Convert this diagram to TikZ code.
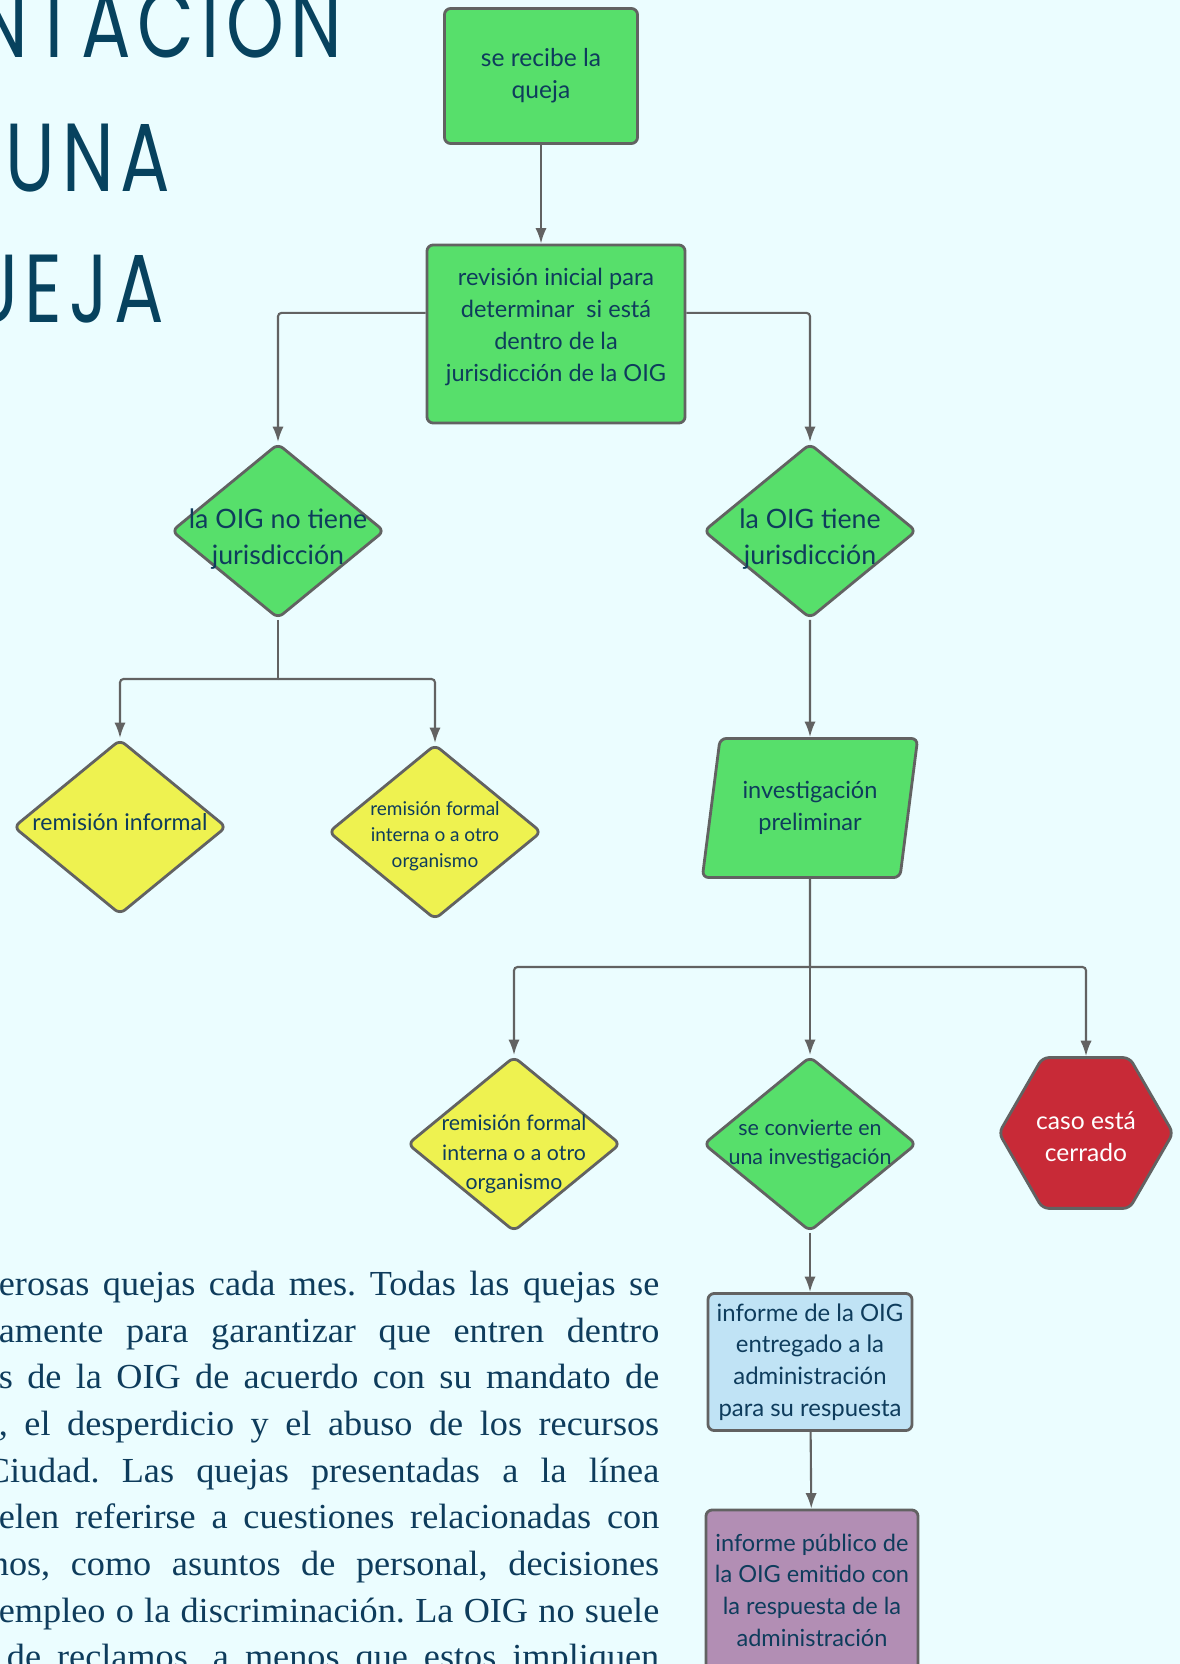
\documentclass[tikz,border=0pt]{standalone}
\usepackage{fontspec}
\setmainfont{Lato}
\newfontfamily\titlefont[FakeStretch=0.76,LetterSpace=7]{Poppins}
\newfontfamily\bodyfont[FakeStretch=1.03]{Liberation Serif}
\usetikzlibrary{shapes.geometric,arrows.meta}

\definecolor{bgcol}{HTML}{EBFDFF}
\definecolor{edge}{HTML}{626262}
\definecolor{ink}{HTML}{0E3C5C}
\definecolor{titleink}{HTML}{07425E}
\definecolor{okgreen}{HTML}{57DF6B}
\definecolor{referyellow}{HTML}{EEF250}
\definecolor{closedred}{HTML}{C82A37}
\definecolor{reportblue}{HTML}{C0E3F5}
\definecolor{publicpurple}{HTML}{B28EB4}

\begin{document}
\frenchspacing
\begin{tikzpicture}[x=0.01cm,y=-0.01cm]
  \tikzstyle{box}=[draw=edge,line width=0.8pt,rounded corners=1.8pt,fill=okgreen,text=ink,align=center,inner sep=0pt,font=\fontsize{7}{9.1}\selectfont]
  \tikzstyle{dia}=[diamond,draw=edge,line width=0.8pt,rounded corners=1.8pt,fill=okgreen,minimum width=2.13cm,minimum height=1.75cm,inner sep=0pt]
  \tikzstyle{lbl}=[text=ink,align=center,inner sep=0pt]
  \tikzstyle{line}=[draw=edge,line width=0.6pt,rounded corners=1pt]
  \tikzstyle{conn}=[line,-{Latex[length=4.4pt,width=3.2pt]}]
  \tikzstyle{body}=[anchor=base east,inner sep=0pt,text=ink,font=\bodyfont\fontsize{10}{13}\selectfont]
  \tikzstyle{title}=[anchor=base east,inner sep=0pt,text=titleink,font=\titlefont\fontsize{27.5}{30}\selectfont]

  \useasboundingbox (0,0) rectangle (1180,1664);
  \fill[bgcol] (0,0) rectangle (1180,1664);

  % heading, cut by the page edge
  \foreach \word/\x/\y in {NTACION/343/58, UNA/171/192, UEJA/165/323}
    \node[title] (T-\word) at (\x,\y) {\word};

  % flow chart
  \node[box,minimum width=1.93cm,minimum height=1.35cm] (recibe) at (541,76) {se recibe la\\queja};
  \node[box,minimum width=2.58cm,minimum height=1.78cm,text depth=5pt,font=\fontsize{6.7}{9.1}\selectfont] (rev) at (556,334) {revisión inicial para\\determinar \ si está\\dentro de la\\jurisdicción de la OIG};

  \node[dia,label={[lbl,font=\fontsize{7.6}{10.2}\selectfont,yshift=-2.4pt]center:{la OIG no tiene\\jurisdicción}}] (noJur) at (278,531) {};
  \node[dia,label={[lbl,font=\fontsize{7.6}{10.2}\selectfont,yshift=-2.4pt]center:{la OIG tiene\\jurisdicción}}] (yesJur) at (810,531) {};

  \node[dia,fill=referyellow,label={[lbl,font=\fontsize{6.55}{9}\selectfont,yshift=1.5pt]center:{remisión informal}}] (informal) at (120,827) {};
  \node[dia,fill=referyellow,label={[lbl,font=\fontsize{5.4}{7.5}\selectfont,yshift=-1.2pt]center:{remisión formal\\interna o a otro\\organismo}}] (formal1) at (435,832) {};

  \node[box,trapezium,trapezium left angle=76,trapezium right angle=104,trapezium stretches=true,minimum width=2.16cm,minimum height=1.39cm,font=\fontsize{6.7}{9.1}\selectfont] (prelim) at (810,808) {investigación\\preliminar};

  \node[dia,fill=referyellow,label={[lbl,font=\fontsize{6.05}{8.4}\selectfont,yshift=-2.9pt]center:{remisión formal\\interna o a otro\\organismo}}] (formal2) at (514,1144) {};
  \node[dia,label={[lbl,font=\fontsize{6.1}{8.4}\selectfont]center:{se convierte en\\una investigación}}] (conv) at (810,1144) {};
  \node[box,regular polygon,regular polygon sides=6,minimum size=1.74cm,fill=closedred,label={[lbl,text=white,font=\fontsize{7}{9.1}\selectfont,yshift=-1pt]center:{caso está\\cerrado}}] (closed) at (1086,1133) {};

  \node[box,fill=reportblue,minimum width=2.04cm,minimum height=1.37cm,font=\fontsize{6.8}{9}\selectfont] (report) at (810,1362) {informe de la OIG\\entregado a la\\administración\\para su respuesta};
  \node[box,fill=publicpurple,minimum width=2.12cm,minimum height=1.6cm,font=\fontsize{6.7}{9}\selectfont] (public) at (812,1590) {informe público de\\la OIG emitido con\\la respuesta de la\\administración};

  \coordinate (split1) at (278,679);
  \coordinate (split2) at (810,967);

  \draw[conn] (recibe) -- (recibe |- rev.north);
  \foreach \from/\to in {yesJur/prelim, split2/conv, conv/report, report/public}
    \draw[conn] (\from) -- (\to);
  \draw[conn] ([yshift=6pt]rev.west) -| (noJur);
  \draw[conn] ([yshift=6pt]rev.east) -| (yesJur);
  \draw[line] (noJur) -- (split1);
  \draw[line] (prelim) -- (split2);
  \foreach \from/\to in {split1/informal, split1/formal1, split2/formal2, split2/closed}
    \draw[conn] (\from) -| (\to);

  % body text, cut by the page edge
  \node[body] (L1) at (660,1295) {\makebox[6.6cm][s]{erosas quejas cada mes. Todas las quejas se}};
  \node[body] (L2) at (660,1342) {\makebox[6.6cm][s]{amente para garantizar que entren dentro}};
  \node[body] (L3) at (660,1388) {\makebox[6.6cm][s]{s de la OIG de acuerdo con su mandato de}};
  \node[body] (L4) at (660,1435) {\makebox[6.6cm][s]{, el desperdicio y el abuso de los recursos}};
  \node[body] (L5) at (660,1482) {\makebox[6.73cm][s]{Ciudad. Las quejas presentadas a la línea}};
  \node[body] (L6) at (660,1528) {\makebox[6.6cm][s]{elen referirse a cuestiones relacionadas con}};
  \node[body] (L7) at (660,1575) {\makebox[6.68cm][s]{nos, como asuntos de personal, decisiones}};
  \node[body] (L8) at (660,1622) {\makebox[6.6cm][s]{empleo o la discriminación. La OIG no suele}};
  \node[body] (L9) at (660,1668) {\makebox[6.52cm][s]{de reclamos, a menos que estos impliquen}};
\end{tikzpicture}
\end{document}
